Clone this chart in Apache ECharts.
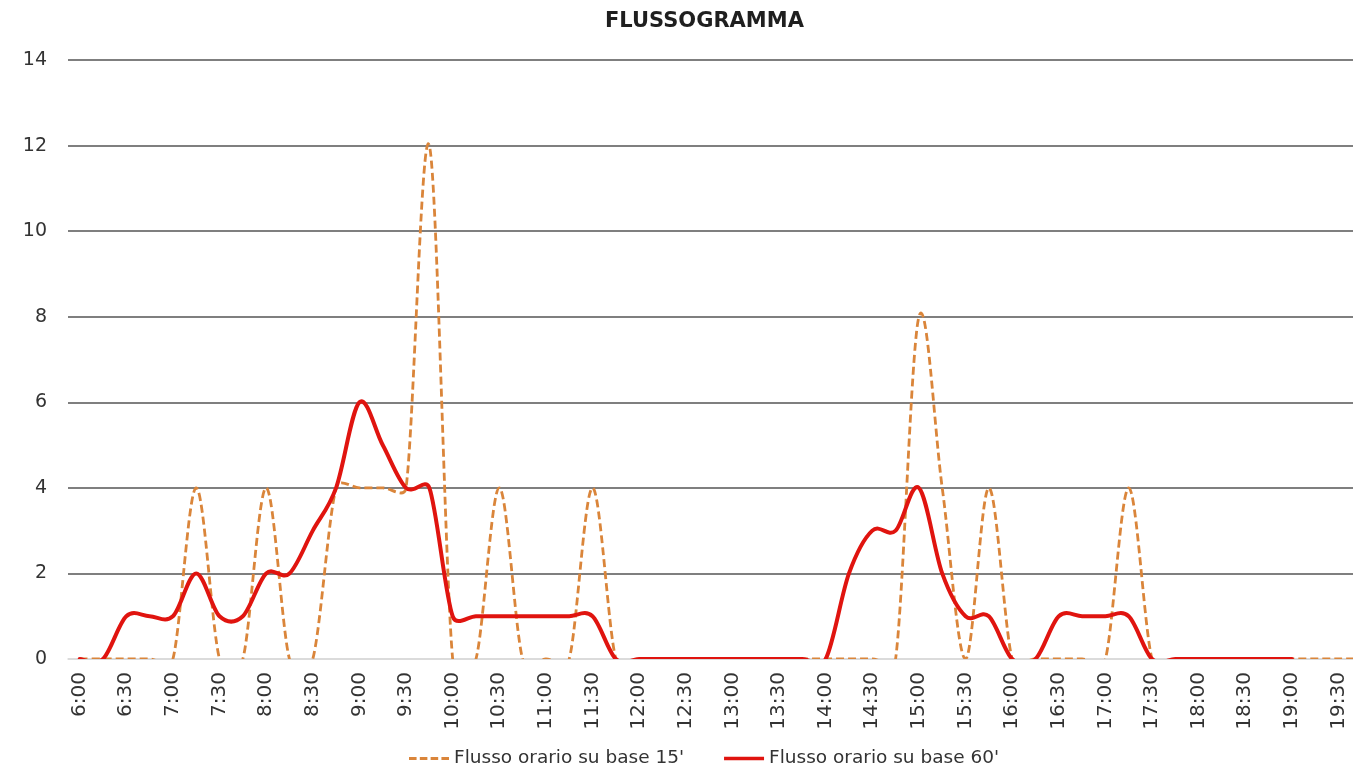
<!DOCTYPE html>
<html>
<head>
<meta charset="utf-8">
<script src="https://cdn.jsdelivr.net/npm/echarts@6/dist/echarts.min.js"></script>
<style>
html,body{margin:0;padding:0;background:#fff;}
#chart{width:1353px;height:771px;}
</style>
</head>
<body>
<div id="chart"></div>
<script>
const categories = [
  '6:00','6:15','6:30','6:45','7:00','7:15','7:30','7:45',
  '8:00','8:15','8:30','8:45','9:00','9:15','9:30','9:45',
  '10:00','10:15','10:30','10:45','11:00','11:15','11:30','11:45',
  '12:00','12:15','12:30','12:45','13:00','13:15','13:30','13:45',
  '14:00','14:15','14:30','14:45','15:00','15:15','15:30','15:45',
  '16:00','16:15','16:30','16:45','17:00','17:15','17:30','17:45',
  '18:00','18:15','18:30','18:45','19:00','19:15','19:30','19:45'
];
const flow15 = [
  0,0,0,0,0,4,0,0,
  4,0,0,4,4,4,4,12,
  0,0,4,0,0,0,4,0,
  0,0,0,0,0,0,0,0,
  0,0,0,0,8,4,0,4,
  0,0,0,0,0,4,0,0,
  0,0,0,0,0,0,0,0
];
const flow60 = [
  0,0,1,1,1,2,1,1,
  2,2,3,4,6,5,4,4,
  1,1,1,1,1,1,1,0,
  0,0,0,0,0,0,0,0,
  0,2,3,3,4,2,1,1,
  0,0,1,1,1,1,0,0,
  0,0,0,0,0,null,null,null
];
const seriesNames = ["Flusso orario su base 15'", "Flusso orario su base 60'"];
const yTicks = { min: 0, max: 14, interval: 2 };

const COLOR15 = '#DA853A';
const COLOR60 = '#E0140F';

function dist(a, b) { return Math.hypot(b[0] - a[0], b[1] - a[1]); }

// Spreadsheet-style smoothed line (Bezier, tension 1/6, arms limited to half the
// segment length), positioned through the chart's axes via api.coord.
function smoothRenderer(values, style) {
  return function (params, api) {
    if (params.dataIndex !== 0) return null;
    const runs = [];
    let cur = [];
    values.forEach(function (v, i) {
      if (v === null || v === undefined) {
        if (cur.length) runs.push(cur);
        cur = [];
      } else {
        cur.push(api.coord([i, v]));
      }
    });
    if (cur.length) runs.push(cur);
    let d = '';
    runs.forEach(function (p) {
      d += 'M' + p[0][0] + ',' + p[0][1];
      for (let i = 0; i < p.length - 1; i++) {
        const p0 = p[i - 1] || p[i];
        const p1 = p[i];
        const p2 = p[i + 1];
        const p3 = p[i + 2] || p[i + 1];
        const d02 = dist(p0, p2), d12 = dist(p1, p2), d13 = dist(p1, p3);
        let f = 1 / 6, g = 1 / 6;
        if (d02 / 6 >= d12 / 2 && d02 > 0) f = d12 / (2 * d02);
        if (d13 / 6 >= d12 / 2 && d13 > 0) g = d12 / (2 * d13);
        const c1x = p1[0] + f * (p2[0] - p0[0]);
        const c1y = p1[1] + f * (p2[1] - p0[1]);
        const c2x = p2[0] - g * (p3[0] - p1[0]);
        const c2y = p2[1] - g * (p3[1] - p1[1]);
        d += 'C' + c1x + ',' + c1y + ',' + c2x + ',' + c2y + ',' + p2[0] + ',' + p2[1];
      }
    });
    return {
      type: 'path',
      shape: { pathData: d },
      style: Object.assign({ fill: 'none' }, style)
    };
  };
}

const chart = echarts.init(document.getElementById('chart'), null, { renderer: 'canvas' });
const gridColor = '#555555';
chart.setOption({
  backgroundColor: '#ffffff',
  animation: false,
  title: {
    text: 'FLUSSOGRAMMA',
    left: 600,
    top: 6,
    textStyle: { fontFamily: 'DejaVu Sans', fontWeight: 'bold', fontSize: 21, color: '#1f1f1f' }
  },
  legend: {
    left: 404,
    top: 744,
    itemWidth: 40,
    itemHeight: 3.5,
    itemGap: 40,
    textStyle: { fontFamily: 'DejaVu Sans', fontSize: 18.5, color: '#333333' },
    data: [
      { name: seriesNames[0], icon: 'path://M0,0h7v3h-7z M10,0h7v3h-7z M20,0h7v3h-7z M30,0h7v3h-7z' },
      { name: seriesNames[1], icon: 'rect' }
    ]
  },
  grid: { left: 68, top: 60, width: 1305.5, bottom: 112, containLabel: false, outerBoundsMode: 'none' },
  xAxis: {
    type: 'category',
    data: categories,
    boundaryGap: true,
    axisLine: { show: true, lineStyle: { color: '#d9d9d9', width: 1.5 } },
    axisTick: { show: false },
    axisLabel: {
      interval: 1,
      rotate: 90,
      margin: 13,
      fontFamily: 'DejaVu Sans',
      fontSize: 20,
      color: '#333333'
    },
    splitLine: { show: false }
  },
  yAxis: {
    type: 'value',
    min: yTicks.min,
    max: yTicks.max,
    interval: yTicks.interval,
    axisLine: { show: false },
    axisTick: { show: false },
    axisLabel: { margin: 21, fontFamily: 'DejaVu Sans', fontSize: 19, color: '#333333' },
    splitLine: {
      show: true,
      lineStyle: { color: ['#d9d9d9', gridColor, gridColor, gridColor, gridColor, gridColor, gridColor, gridColor], width: 1.5 }
    }
  },
  series: [
    {
      name: seriesNames[0],
      type: 'custom',
      clip: true,
      data: flow15.map(function (v, i) { return [i, v]; }),
      itemStyle: { color: COLOR15 },
      renderItem: smoothRenderer(flow15, { stroke: COLOR15, lineWidth: 2.8, lineDash: [8, 4] }),
      z: 2
    },
    {
      name: seriesNames[1],
      type: 'custom',
      clip: true,
      data: flow60.map(function (v, i) { return [i, v === null ? 0 : v]; }),
      itemStyle: { color: COLOR60 },
      renderItem: smoothRenderer(flow60, { stroke: COLOR60, lineWidth: 4, lineJoin: 'round', lineCap: 'round' }),
      z: 3
    }
  ]
});
</script>
</body>
</html>
